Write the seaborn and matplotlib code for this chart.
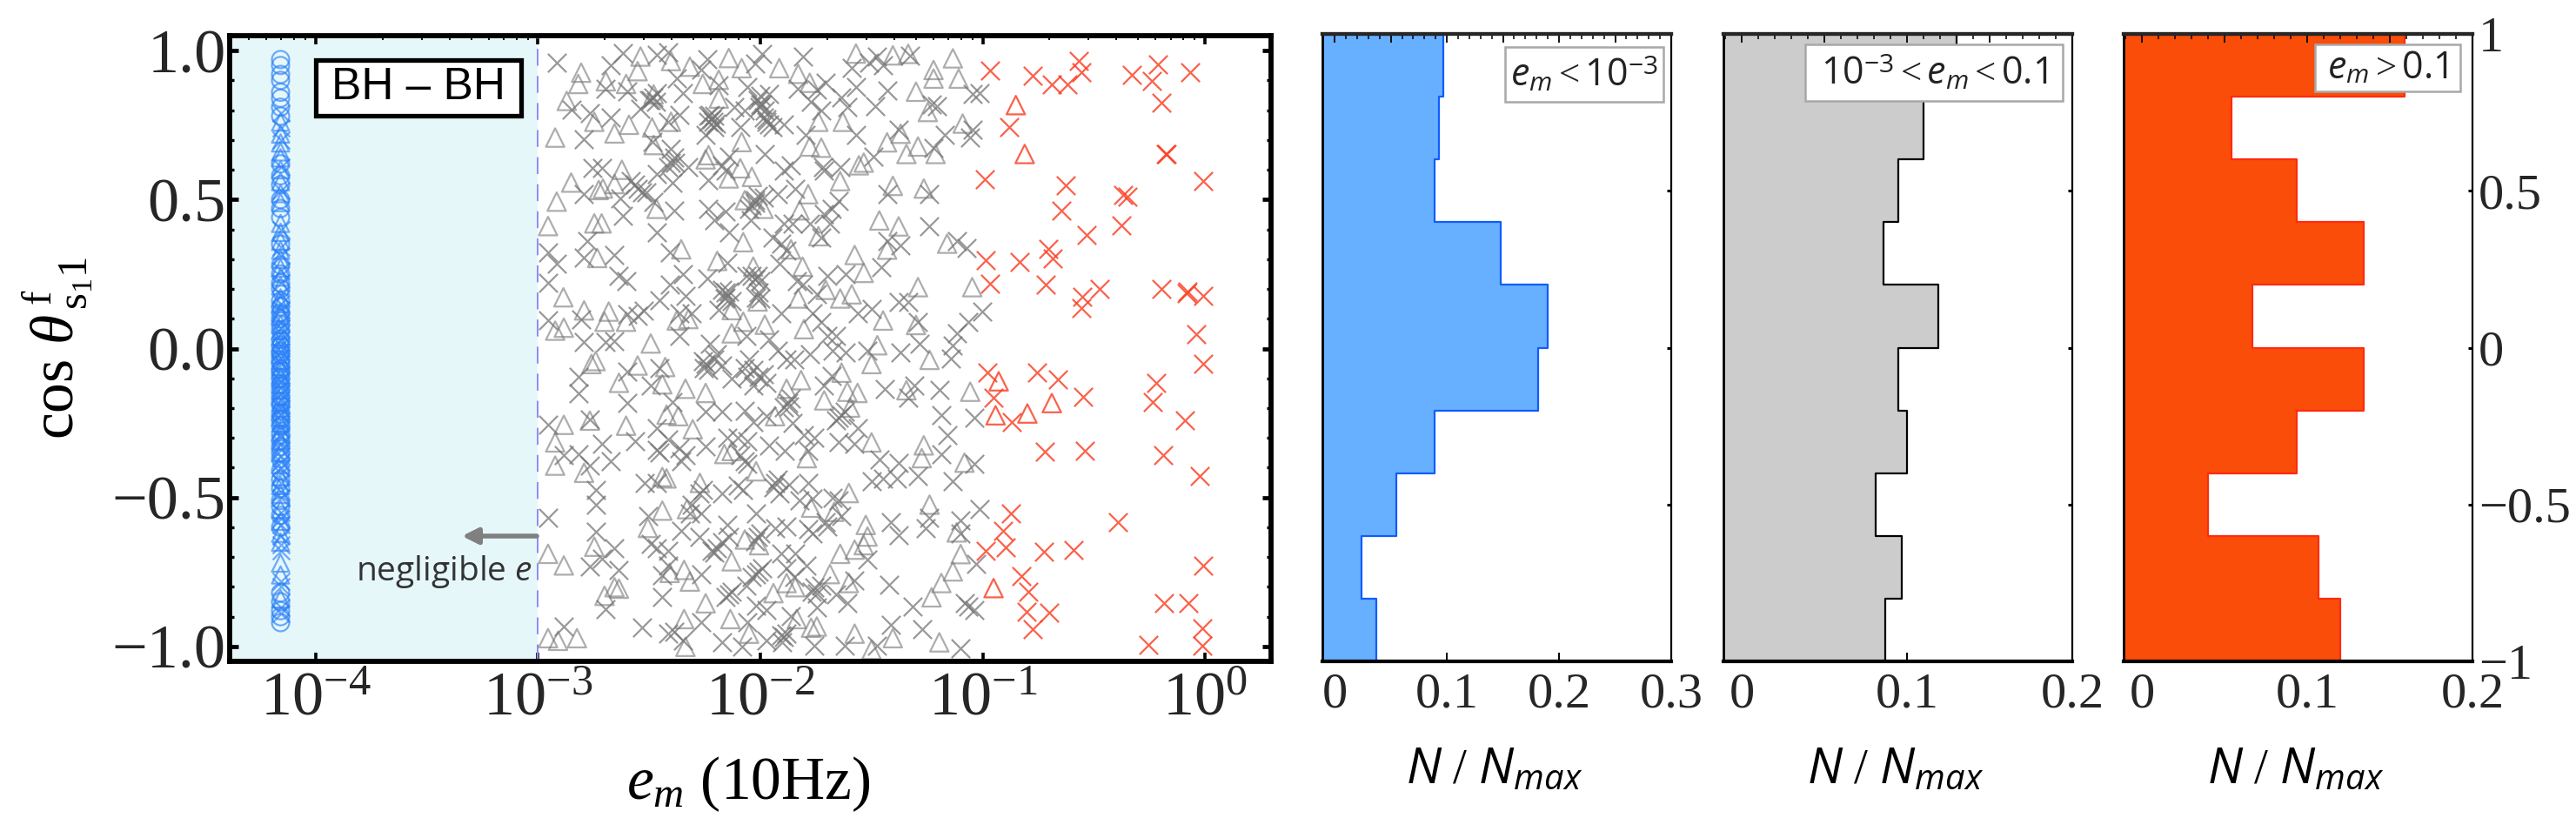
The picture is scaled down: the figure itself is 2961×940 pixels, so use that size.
import numpy as np
import pandas as pd
import matplotlib
matplotlib.use("Agg")
import matplotlib.pyplot as plt
from matplotlib.patches import Rectangle
from matplotlib.ticker import LogLocator, MultipleLocator, NullFormatter, NullLocator
import seaborn as sns

W, H = 2961, 940

# puntos: (log10 e_m, cos theta)
gray_cross_low = [
    (-2.916,0.959),(-2.617,0.993),(-2.675,0.951),(-2.695,0.873),(-2.851,0.802),(-2.767,0.790),(-2.675,0.776),(-2.793,0.703),
    (-2.597,0.863),(-2.754,0.605),(-2.714,0.605),(-2.793,0.518),(-2.552,0.537),(-2.584,0.562),(-2.513,0.523),(-2.467,0.586),
    (-2.402,0.669),(-2.415,0.610),(-2.382,0.625),(-2.324,0.610),(-2.395,0.557),(-2.480,0.493),(-2.630,0.503),(-2.617,0.445),
    (-2.389,0.464),(-2.467,0.391),(-2.780,0.362),(-2.793,0.304),(-2.656,0.313),(-2.916,0.284),(-2.955,0.323),(-2.955,0.221),
    (-2.636,0.245),(-2.604,0.226),(-2.408,0.323),(-2.350,0.250),(-2.454,0.162),(-2.408,0.216),(-2.955,0.094),(-2.806,0.099),
    (-2.793,0.021),(-2.695,0.021),(-2.656,0.026),(-2.552,0.109),(-2.597,0.114),(-2.526,0.128),(-2.493,0.834),(-2.539,0.805),
    (-2.467,0.858),(-2.363,0.785),(-2.415,0.761),(-2.467,0.985),(-2.415,0.995),(-2.350,0.858),(-2.376,0.907),(-2.487,0.693),
    (-2.337,0.177),(-2.363,0.041),(-2.311,0.119),(-2.363,0.119),
    (-2.819,-0.096),(-2.819,-0.149),(-2.597,-0.076),(-2.597,-0.183),(-2.955,-0.256),(-2.767,-0.237),(-2.565,-0.310),(-2.714,-0.320),
    (-2.884,-0.359),(-2.819,-0.354),(-2.767,-0.393),(-2.675,-0.378),(-2.741,-0.475),(-2.741,-0.524),(-2.519,-0.451),(-2.467,-0.451),
    (-2.955,-0.568),(-2.506,-0.563),(-2.741,-0.616),(-2.656,-0.670),(-2.714,-0.704),(-2.767,-0.733),(-2.636,-0.743),(-2.695,-0.874),
    (-2.886,-0.933),(-2.532,-0.937),(-2.441,-0.835),(-2.454,-0.067),(-2.493,-0.125),(-2.467,-0.266),(-2.395,-0.179),(-2.415,-0.305),
    (-2.454,-0.349),(-2.467,-0.339),(-2.363,-0.334),(-2.337,-0.359),(-2.356,-0.378),(-2.356,-0.611),(-2.493,-0.655),(-2.467,-0.670),
    (-2.415,-0.680),(-2.415,-0.728),(-2.441,-0.762),(-2.415,-0.957),(-2.389,-0.952),(-2.350,-0.981),(-2.317,-0.553),(-2.311,-0.524),
]
gray_cross_mid = [
    (-1.992,0.990),(-1.810,0.980),(-2.239,0.970),(-2.265,0.936),(-2.187,0.883),(-2.025,0.956),(-2.057,0.878),(-1.999,0.849),
    (-1.960,0.854),(-1.992,0.819),(-1.973,0.771),(-1.947,0.742),(-1.895,0.751),(-1.830,0.873),(-1.706,0.892),(-1.772,0.829),
    (-1.726,0.800),(-1.635,0.844),(-1.570,0.878),(-1.589,0.941),(-1.609,0.810),(-1.746,0.868),(-2.233,0.781),(-2.213,0.761),
    (-2.207,0.742),(-2.246,0.717),(-2.090,0.742),(-2.116,0.810),(-2.070,0.800),(-1.798,0.717),(-1.570,0.717),(-1.980,0.654),
    (-2.142,0.644),(-2.174,0.615),(-2.233,0.566),(-2.155,0.596),(-1.895,0.596),(-1.862,0.615),(-1.719,0.610),(-1.713,0.596),
    (-1.641,0.610),(-1.843,0.537),(-1.921,0.518),(-2.012,0.513),(-1.986,0.508),(-2.051,0.469),(-2.025,0.489),(-2.233,0.469),
    (-2.155,0.459),(-2.207,0.430),(-2.142,0.391),(-2.045,0.430),(-1.947,0.372),(-1.895,0.420),(-1.856,0.420),(-1.908,0.352),
    (-1.915,0.284),(-1.882,0.328),(-1.836,0.226),(-1.810,0.216),(-1.700,0.245),(-1.746,0.182),(-1.615,0.250),(-1.681,0.469),
    (-1.648,0.494),(-1.713,0.450),(-1.687,0.420),(-2.148,0.289),(-2.239,0.236),(-2.174,0.197),(-2.155,0.172),(-2.129,0.158),
    (-2.187,0.129),(-2.064,0.245),(-2.012,0.245),(-1.999,0.226),(-2.064,0.041),(-1.999,0.168),(-1.908,0.119),(-1.765,0.119),
    (-1.726,0.090),(-1.661,0.041),(-1.700,0.041),(-1.960,0.031),(-2.227,0.017),(-1.563,0.119),(-1.778,0.420),(-1.726,0.372),
    (-2.246,-0.052),(-2.207,-0.037),(-2.194,-0.018),(-2.174,-0.057),(-2.129,-0.101),(-2.032,-0.072),(-1.973,-0.115),(-2.032,-0.125),
    (-2.051,-0.037),(-1.921,-0.008),(-1.882,-0.037),(-1.849,-0.037),(-1.778,-0.018),(-1.674,-0.008),(-1.615,-0.013),(-1.713,-0.125),
    (-1.681,-0.091),(-2.246,-0.213),(-2.174,-0.213),(-2.070,-0.208),(-2.032,-0.247),(-1.973,-0.227),(-1.876,-0.183),(-1.856,-0.251),
    (-1.804,-0.290),(-1.758,-0.300),(-1.785,-0.344),(-1.960,-0.325),(-1.889,-0.344),(-1.648,-0.232),(-1.622,-0.213),(-2.246,-0.329),
    (-2.148,-0.300),(-2.103,-0.300),(-2.057,-0.310),(-2.070,-0.378),(-1.648,-0.315),(-1.576,-0.320),(-1.563,-0.266),(-2.174,-0.485),
    (-2.103,-0.461),(-2.077,-0.475),(-1.934,-0.451),(-1.915,-0.485),(-1.869,-0.456),(-1.785,-0.451),(-1.824,-0.509),(-1.765,-0.504),
    (-1.674,-0.500),(-1.648,-0.509),(-1.635,-0.563),(-2.019,-0.553),(-2.272,-0.485),(-2.265,-0.553),(-2.148,-0.592),(-2.142,-0.631),
    (-2.194,-0.670),(-2.220,-0.680),(-2.272,-0.631),(-2.012,-0.631),(-1.934,-0.602),(-1.882,-0.597),(-1.785,-0.607),(-1.700,-0.597),
    (-1.765,-0.621),(-1.908,-0.689),(-1.843,-0.689),(-1.791,-0.728),(-1.882,-0.738),(-1.849,-0.767),(-2.006,-0.748),(-2.038,-0.767),
    (-2.064,-0.796),(-2.142,-0.826),(-2.265,-0.757),(-1.758,-0.801),(-1.726,-0.796),(-1.609,-0.855),(-1.576,-0.777),(-1.661,-0.826),
    (-1.862,-0.899),(-1.746,-0.869),(-2.019,-0.864),(-1.973,-0.879),(-2.057,-0.918),(-2.174,-0.986),(-2.083,-1.001),(-1.973,-0.981),
    (-1.895,-0.967),(-1.901,-0.986),(-1.758,-0.996),(-1.622,-0.996),(-1.706,-0.582),(-2.265,-0.918),
]
gray_cross_high = [
    (-1.474,0.979),(-1.448,0.950),(-1.509,0.960),(-1.326,0.984),(-1.430,0.867),(-1.230,0.819),(-1.204,0.814),(-1.483,0.814),
    (-1.378,0.736),(-1.169,0.717),(-1.047,0.853),(-1.012,0.858),(-1.047,0.736),(-1.056,0.707),(-1.492,0.644),(-1.221,0.673),
    (-1.430,0.517),(-1.239,0.517),(-1.239,0.410),(-1.117,0.361),(-1.073,0.337),(-1.430,0.361),(-1.369,0.347),(-1.457,0.274),
    (-1.003,0.123),(-1.064,0.089),(-1.117,0.050),(-1.134,0.011),(-1.143,-0.033),(-1.282,0.016),(-1.291,0.089),(-1.378,0.157),
    (-1.335,0.157),(-1.369,-0.013),(-1.500,0.133),(-1.518,-0.008),(-1.439,-0.135),(-1.308,-0.125),(-1.195,-0.140),(-1.335,-0.164),
    (-1.186,-0.222),(-1.038,-0.232),(-1.160,-0.291),(-1.186,-0.354),(-1.038,-0.388),(-1.378,-0.383),(-1.465,-0.373),(-1.134,-0.446),
    (-1.291,-0.427),(-1.387,-0.437),(-1.448,-0.437),(-1.500,-0.446),(-1.012,-0.539),(-1.239,-0.568),(-1.256,-0.602),(-1.413,-0.582),
    (-1.378,-0.626),(-1.099,-0.578),(-1.099,-0.621),(-1.518,-0.709),(-1.029,-0.724),(-1.422,-0.792),(-1.317,-0.865),(-1.274,-0.942),
    (-1.413,-0.928),(-1.082,-0.855),(-1.038,-0.879),(-1.064,-0.865),(-1.099,-1.006),(-1.474,-0.996),
]
# cruces de las zonas mas oscuras, donde se solapan
gray_cross_dense = [
    (-2.220,0.771),(-2.233,0.761),(-2.207,0.781),(-2.226,0.785),(-2.200,0.756),(-1.999,0.819),(-2.012,0.834),(-1.980,0.800),
    (-2.005,0.810),(-1.973,0.761),(-1.960,0.751),(-1.986,0.776),(-2.155,0.187),(-2.142,0.192),(-2.161,0.168),(-2.006,0.187),
    (-2.019,0.172),(-2.038,0.245),(-2.025,0.231),(-2.025,0.498),(-2.038,0.479),(-2.481,0.844),(-2.500,0.834),(-2.468,0.829),
    (-2.565,0.552),(-2.533,0.523),(-2.402,0.625),(-2.389,0.640),(-2.259,-0.042),(-2.233,-0.072),(-2.253,-0.067),(-1.869,-0.193),
    (-1.895,-0.198),(-1.862,-0.169),(-1.661,-0.242),(-1.635,-0.222),(-1.940,-0.466),(-1.921,-0.441),(-2.018,-0.758),(-1.992,-0.738),
    (-1.771,-0.816),(-1.745,-0.821),(-2.155,-0.835),(-2.129,-0.816),(-1.999,-0.621),(-2.025,-0.646),(-1.882,-0.957),(-1.908,-0.962),
    (-2.259,-0.475),(-2.174,-0.650),(-2.207,-0.685),(-2.057,-0.388),(-2.090,-0.358),(-2.006,-0.096),(-2.057,-0.096),(-1.986,-0.086),
    (-2.070,-0.067),
]
gray_tri_low = [
    (-2.806,0.926),(-2.819,0.888),(-2.871,0.831),(-2.923,0.708),(-2.747,0.761),(-2.656,0.722),(-2.591,0.751),(-2.487,0.742),
    (-2.539,0.980),(-2.552,0.931),(-2.695,0.897),(-2.604,0.888),(-2.480,0.853),(-2.402,0.965),(-2.317,0.946),(-2.402,0.761),
    (-2.851,0.557),(-2.708,0.537),(-2.727,0.532),(-2.916,0.493),(-2.623,0.600),(-2.656,0.552),(-2.955,0.411),(-2.747,0.420),
    (-2.714,0.420),(-2.734,0.304),(-2.886,0.172),(-2.793,0.128),(-2.682,0.124),(-2.701,0.090),(-2.604,0.090),(-2.923,0.060),
    (-2.884,0.070),(-2.356,0.333),(-2.480,0.683),(-2.467,0.469),(-2.493,0.017),(-2.376,0.094),(-2.324,0.099),
    (-2.760,-0.052),(-2.741,-0.042),(-2.636,-0.115),(-2.552,-0.057),(-2.441,-0.120),(-2.428,-0.062),(-2.337,-0.135),(-2.884,-0.256),
    (-2.767,-0.242),(-2.604,-0.259),(-2.923,-0.315),(-2.923,-0.393),(-2.793,-0.417),(-2.422,-0.222),(-2.369,-0.227),(-2.304,-0.271),
    (-2.441,-0.431),(-2.422,-0.436),(-2.441,-0.544),(-2.330,-0.539),(-2.506,-0.602),(-2.747,-0.665),(-2.955,-0.689),(-2.884,-0.728),
    (-2.636,-0.806),(-2.656,-0.801),(-2.701,-0.830),(-2.955,-0.972),(-2.910,-0.981),(-2.825,-0.972),(-2.408,-0.753),(-2.343,-0.743),
    (-2.317,-0.782),(-2.343,-0.908),(-2.337,-1.001),
]
gray_tri_mid = [
    (-2.142,0.975),(-2.084,0.941),(-1.915,0.941),(-2.259,0.888),(-2.187,0.902),(-2.187,0.839),(-1.830,0.922),(-1.778,0.892),
    (-1.739,0.761),(-1.629,0.761),(-1.570,0.990),(-2.084,0.693),(-1.778,0.678),(-1.726,0.674),(-2.233,0.649),(-2.246,0.635),
    (-2.090,0.605),(-2.142,0.571),(-2.038,0.576),(-1.641,0.562),(-1.785,0.518),(-1.557,0.615),(-1.823,0.464),(-1.986,0.469),
    (-2.070,0.498),(-2.077,0.357),(-2.194,0.294),(-1.576,0.314),(-2.032,0.275),(-1.810,0.275),(-1.830,0.168),(-1.641,0.168),
    (-1.589,0.182),(-1.706,0.197),(-2.012,0.158),(-2.129,0.129),(-2.077,0.090),(-2.129,0.051),(-1.980,0.080),(-1.804,0.065),
    (-1.739,0.377),(-1.862,0.333),
    (-1.817,-0.106),(-1.882,-0.135),(-1.713,-0.174),(-2.246,-0.149),(-1.635,-0.081),(-1.609,-0.145),(-1.563,-0.149),(-1.596,-0.198),
    (-1.934,-0.227),(-2.162,-0.354),(-2.129,-0.344),(-2.019,-0.412),(-2.272,-0.451),(-1.772,-0.534),(-1.668,-0.548),(-1.791,-0.368),
    (-1.602,-0.485),(-2.070,-0.641),(-2.006,-0.660),(-1.641,-0.689),(-1.576,-0.675),(-2.129,-0.714),(-1.687,-0.757),(-1.602,-0.787),
    (-1.941,-0.821),(-2.246,-0.855),(-2.135,-0.908),(-1.772,-0.937),(-1.746,-0.933),(-2.051,-0.957),(-1.576,-0.957),(-1.836,-0.908),
    (-1.843,-0.801),(-1.882,-0.787),
]
gray_tri_high = [
    (-1.404,0.984),(-1.335,0.989),(-1.134,0.974),(-1.221,0.935),(-1.221,0.906),(-1.108,0.906),(-1.300,0.862),(-1.247,0.794),
    (-1.090,0.755),(-1.369,0.721),(-1.430,0.692),(-1.291,0.678),(-1.343,0.653),(-1.212,0.653),(-1.535,0.624),(-1.404,0.546),
    (-1.265,0.537),(-1.465,0.430),(-1.378,0.410),(-1.160,0.352),(-1.430,0.332),(-1.291,0.206),(-1.047,0.206),(-1.535,0.254),
    (-1.448,0.094),(-1.300,0.079),(-1.239,-0.038),(-1.474,0.011),(-1.500,-0.052),(-1.056,-0.145),(-1.343,-0.140),
    (-1.500,-0.315),(-1.265,-0.325),(-1.274,-0.368),(-1.082,-0.383),(-1.239,-0.524),(-1.526,-0.592),(-1.518,-0.631),(-1.117,-0.617),
    (-1.099,-0.690),(-1.535,-0.660),(-1.134,-0.748),(-1.186,-0.787),(-1.230,-0.835),(-1.404,-0.972),(-1.195,-0.986),(-1.500,-1.011),
]
red_cross = [
    (-0.965,0.933),(-0.776,0.916),(-0.689,0.885),(-0.619,0.887),(-0.567,0.965),(-0.558,0.926),(-0.328,0.920),(-0.210,0.953),
    (-0.241,0.897),(-0.067,0.926),(-0.196,0.826),(-0.881,0.744),(-0.178,0.653),(-0.171,0.653),(-0.991,0.568),(-0.628,0.549),
    (-0.367,0.515),(-0.349,0.509),(-0.009,0.561),(-0.646,0.462),(-0.375,0.413),(-0.532,0.381),(-0.703,0.334),(-0.684,0.303),
    (-0.986,0.296),(-0.834,0.291),(-0.965,0.217),(-0.715,0.214),(-0.475,0.200),(-0.196,0.201),(-0.079,0.191),(-0.084,0.186),
    (-0.009,0.177),(-0.553,0.175),(-0.558,0.136),(-0.039,0.048),(-0.009,-0.052),(-0.977,-0.081),(-0.754,-0.079),(-0.660,-0.104),
    (-0.218,-0.115),(-0.951,-0.164),(-0.550,-0.162),(-0.236,-0.179),(-0.869,-0.247),(-0.091,-0.240),(-0.719,-0.346),(-0.541,-0.344),
    (-0.187,-0.359),(-0.025,-0.427),(-0.872,-0.553),(-0.393,-0.582),(-0.907,-0.612),(-0.986,-0.678),(-0.898,-0.668),(-0.724,-0.682),
    (-0.590,-0.675),(-0.009,-0.730),(-0.827,-0.765),(-0.794,-0.816),(-0.803,-0.884),(-0.701,-0.887),(-0.183,-0.853),(-0.074,-0.855),
    (-0.776,-0.942),(-0.011,-0.938),(-0.011,-0.996),(-0.253,-0.994),
]
red_tri = [(-0.851,0.817),(-0.811,0.653),(-0.928,-0.110),(-0.689,-0.183),(-0.799,-0.218),(-0.942,-0.224),(-0.951,-0.804)]

# columna azul (e_m despreciable, todos con el mismo e_m)
blue_em = 6.95e-5
blue_circle = [0.97,0.95,0.92,0.90,0.86,0.84,0.81,0.78,0.62,0.58,0.55,0.50,0.47,0.44,0.35,0.22,0.20,0.14,0.10,0.06,0.03,-0.02,
               -0.05,-0.08,-0.12,-0.16,-0.19,-0.22,-0.26,-0.29,-0.33,-0.37,-0.41,-0.44,-0.47,-0.51,-0.53,-0.56,-0.60,-0.82,-0.85,-0.88,-0.90,-0.92,
               0.28,0.25,0.16,0.12,0.08,0.01,-0.01,-0.04,-0.07,-0.10,-0.14,-0.18,-0.24,-0.31,-0.35]
blue_tri = [0.76,0.72,0.69,0.66,0.64,0.60,0.56,0.52,0.49,0.42,0.39,0.36,0.33,0.30,0.27,0.24,0.17,0.12,0.08,0.04,0.0,-0.04,-0.07,
            -0.10,-0.14,-0.18,-0.21,-0.25,-0.28,-0.31,-0.35,-0.39,-0.43,-0.46,-0.49,-0.54,-0.58,-0.62,-0.65,-0.72,-0.76,-0.84,
            0.21,0.15,0.11,0.06,0.02,-0.02,-0.06,-0.09,-0.12,-0.16,-0.20,-0.23]
blue_cross = [0.79,0.74,0.70,0.61,0.53,0.40,0.34,0.31,0.26,0.18,0.15,0.09,0.05,0.01,-0.03,-0.09,-0.13,-0.17,-0.20,-0.24,-0.27,
              -0.30,-0.34,-0.38,-0.40,-0.42,-0.45,-0.48,-0.50,-0.55,-0.57,-0.59,-0.63,-0.66,-0.68,-0.78,-0.80,-0.87,-0.89,
              0.22,0.13,0.07,0.03,-0.01,-0.05,-0.11,-0.15,-0.19,-0.22,-0.26,-0.29,-0.32,-0.36]

# histogramas
bin_edges = [-1.0,-0.8,-0.6,-0.4,-0.2,0.0,0.2,0.4,0.6,0.8,1.0]
bin_centers = [0.9,0.7,0.5,0.3,0.1,-0.1,-0.3,-0.5,-0.7,-0.9]
hist_low = [0.097,0.093,0.089,0.148,0.19,0.181,0.089,0.055,0.024,0.037]
hist_mid = [0.13,0.11,0.095,0.086,0.119,0.095,0.10,0.081,0.097,0.087]
hist_high = [0.159,0.054,0.0935,0.134,0.067,0.134,0.0935,0.04,0.107,0.12]

GRAY = "#777777"
RED = "#fb3a1e"
BLUE = "#2a80f8"
MSIZE = 235

sns.set_theme(style="white")
plt.rcParams["font.family"] = ["Liberation Serif", "DejaVu Serif"]
plt.rcParams["mathtext.fontset"] = "custom"
plt.rcParams["mathtext.rm"] = "Liberation Serif"
plt.rcParams["mathtext.it"] = "Liberation Serif:italic"
plt.rcParams["mathtext.bf"] = "Liberation Serif:bold"
plt.rcParams["mathtext.sf"] = "Open Sans"
plt.rcParams["mathtext.cal"] = "Open Sans:italic"
plt.rcParams["axes.unicode_minus"] = True


def box_axes(fig, left, top, right, bottom):
    return fig.add_axes([left / W, 1 - bottom / H, (right - left) / W, (bottom - top) / H])


def fx(px):
    return px / W


def fy(py):
    return 1 - py / H


def points_frame(pairs):
    df = pd.DataFrame(pairs, columns=["log_em", "cos"])
    df["em"] = 10.0 ** df["log_em"]
    return df


fig = plt.figure(figsize=(W / 100, H / 100), dpi=100, facecolor="white")

# panel principal
ax = box_axes(fig, 264, 41, 1461, 760)
ax.set_xscale("log")
ax.axvspan(10 ** -4.387, 1e-3, color="#e6f7fa", lw=0, zorder=0)
ax.axvline(1e-3, color="#8c8cf5", lw=1.4, dashes=(10, 6), zorder=1)

gray_cross = points_frame(gray_cross_low + gray_cross_mid + gray_cross_high + gray_cross_dense)
gray_tri = points_frame(gray_tri_low + gray_tri_mid + gray_tri_high)
sns.scatterplot(data=gray_cross, x="em", y="cos", marker="x", s=MSIZE, color=GRAY, linewidth=1.6, alpha=0.75, ax=ax, zorder=3)
sns.scatterplot(data=gray_tri, x="em", y="cos", marker="^", s=MSIZE, facecolor="none", edgecolor=GRAY, linewidth=1.6, alpha=0.6, ax=ax, zorder=3)
sns.scatterplot(data=points_frame(red_cross), x="em", y="cos", marker="x", s=MSIZE, color=RED, linewidth=1.6, alpha=0.8, ax=ax, zorder=3)
sns.scatterplot(data=points_frame(red_tri), x="em", y="cos", marker="^", s=MSIZE, facecolor="none", edgecolor=RED, linewidth=1.6, alpha=0.8, ax=ax, zorder=3)

sns.scatterplot(x=[blue_em] * len(blue_circle), y=blue_circle, marker="o", s=205, facecolor="none", edgecolor=BLUE, linewidth=1.6, alpha=0.65, ax=ax, zorder=3)
sns.scatterplot(x=[blue_em] * len(blue_tri), y=blue_tri, marker="^", s=205, facecolor="none", edgecolor=BLUE, linewidth=1.6, alpha=0.65, ax=ax, zorder=3)
sns.scatterplot(x=[blue_em] * len(blue_cross), y=blue_cross, marker="x", s=205, color=BLUE, linewidth=1.6, alpha=0.65, ax=ax, zorder=3)

ax.set_xlim(10 ** -4.387, 10 ** 0.297)
ax.set_ylim(-1.05, 1.05)
ax.set_xlabel("")
ax.set_ylabel("")
ax.set_xticks([1e-4, 1e-3, 1e-2, 1e-1, 1])
ax.set_xticklabels([r"$10^{-4}$", r"$10^{-3}$", r"$10^{-2}$", r"$10^{-1}$", r"$10^{0}$"])
ax.xaxis.set_minor_locator(LogLocator(base=10, subs=np.arange(2, 10), numticks=12))
ax.xaxis.set_minor_formatter(NullFormatter())
ax.set_yticks([-1.0, -0.5, 0.0, 0.5, 1.0])
ax.set_yticklabels(["\u22121.0", "\u22120.5", "0.0", "0.5", "1.0"])
ax.yaxis.set_minor_locator(MultipleLocator(0.1))
ax.tick_params(axis="x", which="major", direction="in", top=True, bottom=True, length=7, width=2.6, labelsize=52, pad=8, color="black")
ax.tick_params(axis="x", which="minor", direction="in", top=True, bottom=False, length=3.5, width=1.3, color="black")
ax.tick_params(axis="y", which="major", direction="in", left=True, right=True, length=7, width=3.4, labelsize=52, pad=3, color="black")
ax.tick_params(axis="y", which="minor", direction="in", left=True, right=True, length=3.5, width=2.4, color="black")
for spine in ax.spines.values():
    spine.set_linewidth(4.2)
    spine.set_color("black")
    spine.set_zorder(5)

# caja BH - BH
fig.add_artist(Rectangle((fx(363), fy(133)), (599 - 363) / W, (133 - 69) / H, transform=fig.transFigure,
                         facecolor="white", edgecolor="black", linewidth=3.8, zorder=6))
fig.text(fx(481), fy(101), "BH \u2013 BH", family="Liberation Sans", fontsize=37, ha="center", va="center", color="black", zorder=7)

# flecha y texto
ax.annotate("", xy=(fx(531), fy(616)), xytext=(fx(617), fy(616)), xycoords="figure fraction", textcoords="figure fraction",
            arrowprops=dict(arrowstyle="-|>,head_length=0.9,head_width=0.45", color="#808080", lw=4, shrinkA=0, shrinkB=0), zorder=6)
fig.text(fx(612), fy(657), r"negligible $\mathcal{e}$", family="Open Sans", fontsize=28, ha="right", va="center", color="#333333", zorder=7)

fig.text(fx(66), fy(400), r"$\cos\,\theta^{\,\mathrm{f}}_{\,\mathrm{s}_{1}\mathrm{1}}$", rotation=90, fontsize=50, ha="center", va="center", color="black")
fig.text(fx(860), fy(918), r"$e_m$ (10Hz)", fontsize=50, ha="center", va="baseline", color="black")

# histogramas
panels = [
    (1520, 1921, hist_low, "#66b0ff", "#0f5cff", 0.30, [0, 0.1, 0.2, 0.3], ["0", "0.1", "0.2", "0.3"]),
    (1981, 2382, hist_mid, "#cccccc", "black", 0.20, [0, 0.1, 0.2], ["0", "0.1", "0.2"]),
    (2441, 2842, hist_high, "#fa4d09", "#ff2a10", 0.20, [0, 0.1, 0.2], ["0", "0.1", "0.2"]),
]
for left, right, values, fill, edge, xmax, ticks, labels in panels:
    hax = box_axes(fig, left, 39, right, 760)
    sns.histplot(y=bin_centers, weights=values, bins=bin_edges, element="step", fill=True, color=fill, edgecolor=edge,
                 linewidth=1.6, alpha=1, ax=hax, zorder=2)
    # el relleno llega hasta el borde izquierdo y tapa la linea de base en 0
    hax.axvspan(-0.011, 0.0015, color=fill, lw=0, zorder=3)
    hax.set_xlim(-0.011, xmax)
    hax.set_ylim(-1, 1)
    hax.set_xlabel("")
    hax.set_ylabel("")
    hax.set_xticks(ticks)
    hax.set_xticklabels(labels)
    hax.xaxis.set_minor_locator(NullLocator())
    hax.tick_params(axis="x", direction="in", top=False, bottom=True, length=7, width=1.4, labelsize=42, pad=9, color="black", zorder=6)
    hax.yaxis.tick_right()
    hax.set_yticks([-1, -0.5, 0, 0.5, 1])
    hax.tick_params(axis="y", direction="in", right=True, left=False, length=3.5, width=2.2, color="black", zorder=6)
    if left == 2441:
        hax.set_yticklabels(["\u22121", "\u22120.5", "0", "0.5", "1"])
        hax.tick_params(axis="y", labelsize=42, pad=5)
    else:
        hax.tick_params(axis="y", labelright=False)
    top = hax.secondary_xaxis("top")
    top.set_zorder(6)
    top.xaxis.set_major_locator(MultipleLocator(0.05))
    top.xaxis.set_minor_locator(MultipleLocator(0.01))
    top.tick_params(which="major", direction="in", length=7, width=1.3, labeltop=False, color="black")
    top.tick_params(which="minor", direction="in", length=4, width=1.1, color="black")
    top.spines["top"].set_linewidth(3.0)
    for name, lw in [("left", 2), ("right", 1.6), ("top", 3.0), ("bottom", 3.0)]:
        hax.spines[name].set_linewidth(lw)
        hax.spines[name].set_color("black")
        hax.spines[name].set_zorder(5)
    fig.text(fx((left + right) / 2 - 3), fy(900), r"$\mathcal{N}\ /\ \mathcal{N}_{\mathcal{max}}$", fontsize=41, ha="center", va="baseline", color="black")

# cajas de etiqueta
label_boxes = [
    (1730, 54, 1912, 117, r"$\mathcal{e}_{\mathcal{m}} < \mathsf{10}^{\mathsf{-3}}$", 31),
    (2075, 51, 2371, 116, r"$\mathsf{10}^{\mathsf{-3}} < \mathcal{e}_{\mathcal{m}} < \mathsf{0.1}$", 31),
    (2661, 51, 2828, 105, r"$\mathcal{e}_{\mathcal{m}} > \mathsf{0.1}$", 31),
]
for l, t, r, b, txt, size in label_boxes:
    fig.add_artist(Rectangle((fx(l), fy(b)), (r - l) / W, (b - t) / H, transform=fig.transFigure,
                             facecolor="white", edgecolor="#a8a8a8", linewidth=1.8, zorder=8))
    fig.text(fx((l + r) / 2), fy((t + b) / 2), txt, fontsize=size, ha="center", va="center", color="#222222", zorder=9)

fig.savefig("out.png", dpi=100)
